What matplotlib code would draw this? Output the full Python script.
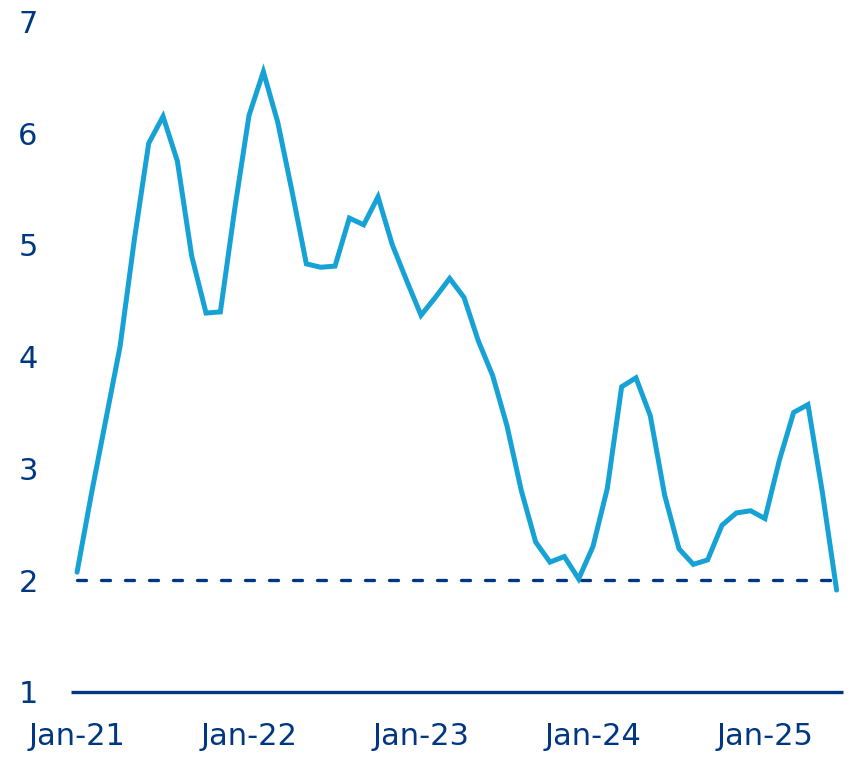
import numpy as np
import pandas as pd
import matplotlib as mpl
mpl.use('Agg')
import matplotlib.pyplot as plt

mpl.rcParams['font.family'] = 'DejaVu Sans'

# monthly values, Jan-21 .. Jun-25
values = [2.07, 2.77, 3.43, 4.09, 5.05, 5.91, 6.15, 5.75, 4.90, 4.39,
          4.40, 5.32, 6.16, 6.55, 6.10, 5.48, 4.83, 4.80, 4.81, 5.24,
          5.18, 5.43, 5.00, 4.68, 4.37, 4.53, 4.70, 4.53, 4.14, 3.83,
          3.38, 2.80, 2.34, 2.16, 2.21, 2.01, 2.30, 2.82, 3.73, 3.81,
          3.47, 2.76, 2.28, 2.14, 2.18, 2.49, 2.60, 2.62, 2.55, 3.07,
          3.50, 3.57, 2.79, 1.91]
months = pd.date_range('2021-01-01', periods=len(values), freq='MS')
target = 2.0
yticks = [1, 2, 3, 4, 5, 6, 7]

navy = '#003781'
light_blue = '#17A2D6'

x = np.arange(len(values))
xticks = [i for i, m in enumerate(months) if m.month == 1]
xticklabels = [months[i].strftime('%b-%y') for i in xticks]

fig = plt.figure(figsize=(8.6, 7.65), dpi=100)
ax = fig.add_axes([0.0826, 0.0958, 0.8977, 0.8761])

ax.plot(x, values, color=light_blue, lw=3.6, solid_joinstyle='miter', solid_capstyle='round', zorder=3)
ax.plot([x[0], x[-1]], [target, target], color=navy, lw=2.4,
        dashes=(2.7, 4.5), dash_capstyle='round', zorder=2)

ax.set_xlim(-0.42, 53.45)
ax.set_ylim(1, 7)

ax.set_xticks(xticks)
ax.set_xticklabels(xticklabels)
ax.set_yticks(yticks)

for side in ['top', 'right', 'left']:
    ax.spines[side].set_visible(False)
ax.spines['bottom'].set_color(navy)
ax.spines['bottom'].set_linewidth(2.4)
ax.spines['bottom'].set_capstyle('butt')

ax.tick_params(axis='both', length=0, labelsize=22, labelcolor=navy)
ax.tick_params(axis='x', pad=22)
ax.tick_params(axis='y', pad=24)

fig.savefig('out.png', dpi=100)
plt.close()
